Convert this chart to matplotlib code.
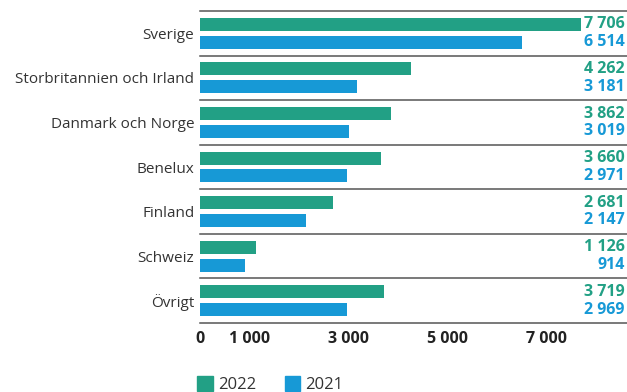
import matplotlib
matplotlib.use("Agg")
import matplotlib.pyplot as plt
from matplotlib.patches import Patch

plt.rcParams['font.family'] = ['Open Sans', 'DejaVu Sans']

# Försäljning per region
regions = ["Sverige", "Storbritannien och Irland", "Danmark och Norge",
           "Benelux", "Finland", "Schweiz", "Övrigt"]
v2022 = [7706, 4262, 3862, 3660, 2681, 1126, 3719]
v2021 = [6514, 3181, 3019, 2971, 2147, 914, 2969]
xticks = [0, 1000, 3000, 5000, 7000]

green = "#22a085"
blue = "#1799d6"


def fmt(v):
    return f"{v:,}".replace(",", " ")


fig = plt.figure(figsize=(6.27, 3.92), dpi=100)
ax = fig.add_axes([200 / 627, 1 - 323 / 392, 427 / 627, 312 / 392])

ypos = list(range(len(regions)))
ax.barh([y - 0.2 for y in ypos], v2022, height=0.29, color=green)
ax.barh([y + 0.2 for y in ypos], v2021, height=0.29, color=blue)

# skiljelinjer mellan grupperna
for i in range(len(regions) + 1):
    ax.axhline(i - 0.5, color="#555555", lw=1.1, clip_on=False)

# värden till höger
for y, a, b in zip(ypos, v2022, v2021):
    ax.text(0.995, y - 0.2, fmt(a), transform=ax.get_yaxis_transform(),
            ha="right", va="center", color=green, fontsize=11.5, fontweight="bold")
    ax.text(0.995, y + 0.2, fmt(b), transform=ax.get_yaxis_transform(),
            ha="right", va="center", color=blue, fontsize=11.5, fontweight="bold")

ax.set_xlim(0, 8637)
ax.set_ylim(len(regions) - 0.5, -0.5)
ax.set_yticks(ypos)
ax.set_yticklabels(regions, fontsize=11, color="#333333")
ax.set_xticks(xticks)
ax.set_xticklabels([fmt(t) for t in xticks], fontsize=11.5, fontweight="bold",
                   color="#222222")
ax.tick_params(axis="both", length=0)
ax.tick_params(axis="y", pad=4)
ax.tick_params(axis="x", pad=6)
for s in ax.spines.values():
    s.set_visible(False)

handles = [Patch(color=green, label="2022"), Patch(color=blue, label="2021")]
fig.legend(handles=handles, loc="upper left", ncol=2, frameon=False,
           bbox_to_anchor=(189 / 627, 1 - 368 / 392), fontsize=12,
           borderpad=0, handlelength=0.95, handleheight=0.95, columnspacing=1.7,
           handletextpad=0.3, labelcolor="#333333")

fig.savefig("out.png", dpi=100)
